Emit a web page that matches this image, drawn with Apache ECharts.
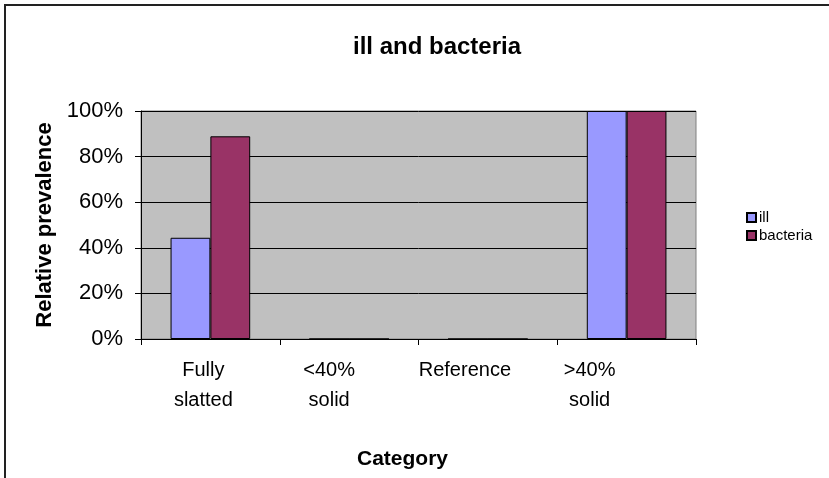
<!DOCTYPE html>
<html>
<head>
<meta charset="utf-8">
<script src="https://cdn.jsdelivr.net/npm/echarts@6/dist/echarts.min.js"></script>
<style>
  html, body { margin: 0; padding: 0; background: #fff; }
  #chart { width: 829px; height: 478px; }
</style>
</head>
<body>
<div id="chart"></div>
<script>
// Housing categories and relative prevalence (%) for each group
const categories = ['Fully\nslatted', '<40%\nsolid', 'Reference', '>40%\nsolid'];
const illValues = [44.4, 0, 0, 100];
const bacteriaValues = [88.9, 0, 0, 100];
const yTicks = [0, 20, 40, 60, 80, 100];

const FONT = '"Liberation Sans", Arial, sans-serif';

// Horizontal nudge (px, leftwards) applied to each category label
const labelNudge = [7, 20, 23, 37];

const chart = echarts.init(document.getElementById('chart'), null, { renderer: 'canvas' });

const grid = { left: 141, top: 111, width: 555, height: 228 };

const categoryItems = categories.map((name, i) => ({
  value: name,
  textStyle: { padding: [0, labelNudge[i] * 2, 0, 0] }
}));

chart.setOption({
  animation: false,
  backgroundColor: '#ffffff',
  title: {
    text: 'ill and bacteria',
    left: 432,
    top: 30,
    textAlign: 'center',
    textStyle: { fontFamily: FONT, fontSize: 24, fontWeight: 'bold', color: '#000' }
  },
  legend: {
    orient: 'vertical',
    left: 741,
    top: 205,
    itemWidth: 9,
    itemHeight: 9,
    itemGap: 3,
    icon: 'rect',
    textStyle: { fontFamily: FONT, fontSize: 15, color: '#000', padding: [0, 0, 0, -2] },
    data: ['ill', 'bacteria']
  },
  graphic: [
    {
      type: 'rect',
      shape: { x: 5, y: 5, width: 900, height: 600 },
      style: { fill: null, stroke: '#222', lineWidth: 2 },
      silent: true
    },
    {
      type: 'rect',
      shape: { x: grid.left, y: grid.top, width: grid.width, height: grid.height },
      style: { fill: '#c0c0c0', stroke: '#808080', lineWidth: 1 },
      z: -1,
      silent: true
    }
  ],
  grid: grid,
  xAxis: {
    type: 'category',
    data: categoryItems,
    name: 'Category',
    nameLocation: 'middle',
    nameGap: 110,
    nameTextStyle: { fontFamily: FONT, fontSize: 21, fontWeight: 'bold', color: '#000', padding: [0, 32, 0, 0] },
    axisLine: { lineStyle: { color: '#000', width: 1 } },
    axisTick: { show: true, length: 6, lineStyle: { color: '#000' } },
    axisLabel: {
      fontFamily: FONT, fontSize: 20, color: '#000',
      lineHeight: 30, margin: 16, align: 'center'
    },
    splitLine: { show: false }
  },
  yAxis: {
    type: 'value',
    min: 0,
    max: 100,
    interval: 20,
    name: 'Relative prevalence',
    nameLocation: 'middle',
    nameGap: 84,
    nameTextStyle: { fontFamily: FONT, fontSize: 22, fontWeight: 'bold', color: '#000' },
    axisLine: { show: true, lineStyle: { color: '#000', width: 1 } },
    axisTick: { show: true, inside: false, length: 6, lineStyle: { color: '#000' } },
    axisLabel: {
      fontFamily: FONT, fontSize: 22, color: '#000', margin: 18,
      formatter: v => (yTicks.includes(v) ? v + '%' : '')
    },
    splitLine: { show: true, lineStyle: { color: '#000', width: 1 } }
  },
  series: [
    {
      name: 'ill',
      type: 'bar',
      data: illValues,
      barWidth: '28.7%',
      barGap: '0%',
      itemStyle: { color: '#9999ff', borderColor: '#000', borderWidth: 1 }
    },
    {
      name: 'bacteria',
      type: 'bar',
      data: bacteriaValues,
      barWidth: '28.7%',
      barGap: '0%',
      itemStyle: { color: '#993366', borderColor: '#000', borderWidth: 1 }
    }
  ]
});
</script>
</body>
</html>
